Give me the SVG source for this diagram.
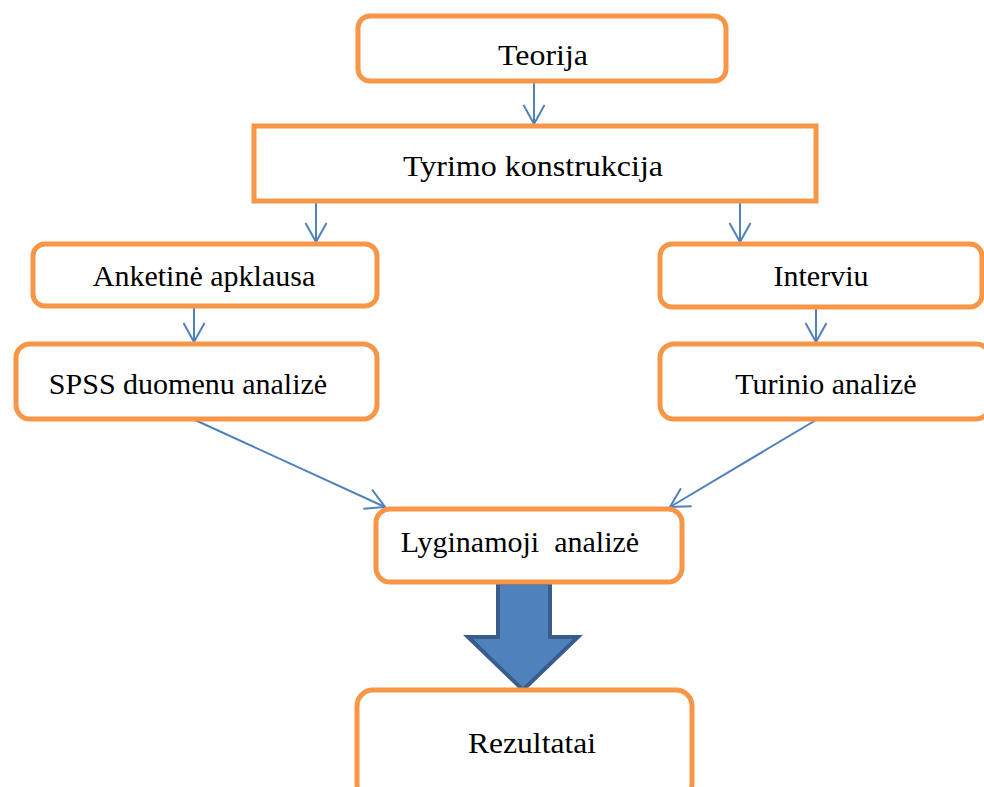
<svg xmlns="http://www.w3.org/2000/svg" width="984" height="787" viewBox="0 0 984 787">
<style>
.box{fill:#fff;stroke:#F79646;stroke-width:5}
.t{font-family:"Liberation Serif","Times New Roman",serif;font-size:30px;fill:#000;text-anchor:middle}
.c{stroke:#4F81BD;stroke-width:2;fill:none}
</style>
<defs>
<marker id="ah" viewBox="0 0 24 24" refX="21" refY="12" markerWidth="24" markerHeight="24" markerUnits="userSpaceOnUse" orient="auto">
<path d="M2,1.5 L21,12 L2,22.5" fill="none" stroke="#4F81BD" stroke-width="2"/>
</marker>
</defs>
<rect width="984" height="787" fill="#fff"/>
<g id="connectors">
<line class="c" x1="534" y1="82" x2="534" y2="124" marker-end="url(#ah)"/>
<line class="c" x1="316" y1="202" x2="316" y2="242" marker-end="url(#ah)"/>
<line class="c" x1="740" y1="202" x2="740" y2="242" marker-end="url(#ah)"/>
<line class="c" x1="194" y1="307" x2="194" y2="342" marker-end="url(#ah)"/>
<line class="c" x1="816" y1="308" x2="816" y2="342" marker-end="url(#ah)"/>
<line class="c" x1="195" y1="420" x2="385" y2="507" marker-end="url(#ah)"/>
<line class="c" x1="816" y1="420" x2="670" y2="507" marker-end="url(#ah)"/>
<path d="M498,583 L550,583 L550,637 L578,637 L523,690 L468,637 L498,637 Z" fill="#4F81BD" stroke="#385D8A" stroke-width="4" stroke-linejoin="miter"/>
</g>
<g id="teorija"><rect class="box" x="358" y="16" width="368" height="65" rx="12"/><text class="t" x="543" y="65" textLength="90" lengthAdjust="spacingAndGlyphs">Teorija</text></g>
<g id="tyrimo"><rect class="box" x="254" y="126" width="562" height="75"/><text class="t" x="533" y="176" textLength="260" lengthAdjust="spacingAndGlyphs">Tyrimo konstrukcija</text></g>
<g id="anketine"><rect class="box" x="33" y="244" width="344" height="62" rx="12"/><text class="t" x="204" y="286">Anketinė apklausa</text></g>
<g id="spss"><rect class="box" x="16" y="344" width="361" height="75" rx="14"/><text class="t" x="188" y="394">SPSS duomenu analizė</text></g>
<g id="interviu"><rect class="box" x="660" y="244" width="322" height="63" rx="12"/><text class="t" x="821" y="286">Interviu</text></g>
<g id="turinio"><rect class="box" x="660" y="344" width="330" height="75" rx="14"/><text class="t" x="826" y="394">Turinio analizė</text></g>
<g id="lyginamoji"><rect class="box" x="376" y="509" width="306" height="73" rx="14"/><text class="t" x="520" y="552" xml:space="preserve">Lyginamoji  analizė</text></g>
<g id="rezultatai"><rect class="box" x="357" y="690" width="335" height="110" rx="16"/><text class="t" x="532" y="753" textLength="128" lengthAdjust="spacingAndGlyphs">Rezultatai</text></g>
</svg>
